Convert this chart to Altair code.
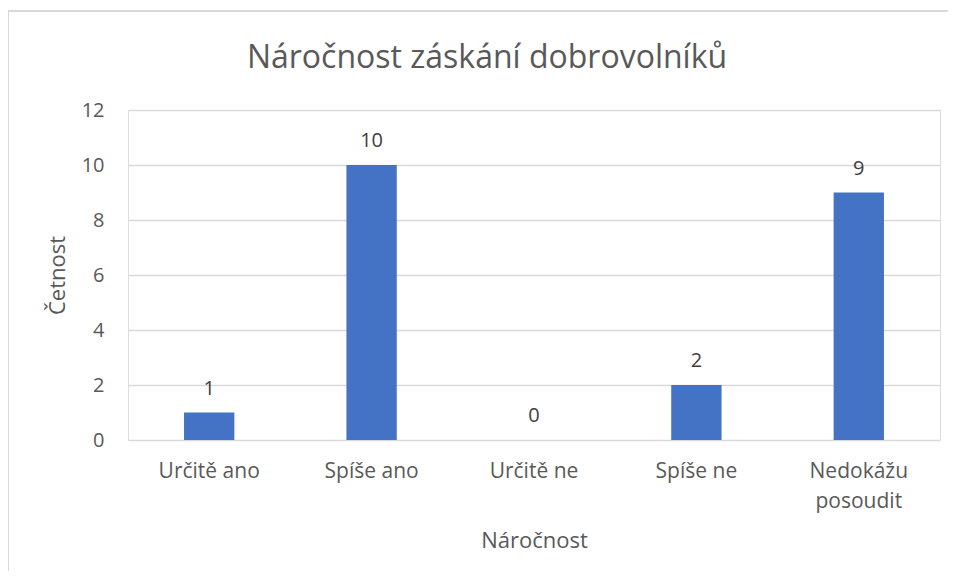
import altair as alt
import pandas as pd

categories = ["Určitě ano", "Spíše ano", "Určitě ne", "Spíše ne", "Nedokážu posoudit"]
values = [1, 10, 0, 2, 9]

df = pd.DataFrame({"cat": categories, "val": values})

FONT = "Open Sans"
GREY = "#595959"

x_enc = alt.X(
    "cat:N",
    sort=categories,
    scale=alt.Scale(paddingInner=0.69, paddingOuter=0.345),
    axis=alt.Axis(
        title="Náročnost",
        labelAngle=0,
        ticks=False,
        domain=False,
        grid=False,
        labelPadding=20,
        labelFontSize=21,
        labelColor=GREY,
        labelFont=FONT,
        labelLineHeight=30,
        labelExpr="datum.label == 'Nedokážu posoudit' ? ['Nedokážu', 'posoudit'] : datum.label",
        titleFontSize=22,
        titleFont=FONT,
        titleColor=GREY,
        titleFontWeight="normal",
        titlePadding=19,
    ),
)
y_enc = alt.Y(
    "val:Q",
    scale=alt.Scale(domain=[0, 12]),
    axis=alt.Axis(
        title="Četnost",
        values=[0, 2, 4, 6, 8, 10, 12],
        ticks=False,
        domain=False,
        labelPadding=24,
        labelFontSize=20,
        labelColor=GREY,
        labelFont=FONT,
        gridColor="#D9D9D9",
        gridWidth=1.3,
        titleFontSize=22,
        titleFont=FONT,
        titleColor=GREY,
        titleFontWeight="normal",
        titlePadding=12,
    ),
)

bars = alt.Chart(df).mark_bar(color="#4472C4").encode(x=x_enc, y=y_enc)
labels = alt.Chart(df).mark_text(
    baseline="alphabetic", dy=-18, fontSize=20, font=FONT, color="#404040"
).encode(x=alt.X("cat:N", sort=categories), y="val:Q", text="val:Q")

border_top = alt.Chart(df).mark_rule(color="#D9D9D9", strokeWidth=1.3, clip=False).encode(
    x=alt.value(-120), x2=alt.value(840), y=alt.value(-99)
)
border_left = alt.Chart(df).mark_rule(color="#D9D9D9", strokeWidth=1.3, clip=False).encode(
    x=alt.value(-120), y=alt.value(-99), y2=alt.value(480)
)

chart = (
    alt.layer(border_top, border_left, bars, labels)
    .properties(
        width=812,
        height=330,
        title=alt.TitleParams(
            "Náročnost záskání dobrovolníků",
            fontSize=32,
            font=FONT,
            color=GREY,
            fontWeight="normal",
            anchor="middle",
            dx=-47,
            dy=5,
            offset=-60,
        ),
        autosize=alt.AutoSizeParams(type="none"),
        padding={"left": 120, "top": 102, "right": 8, "bottom": 131},
    )
    .configure_view(stroke="transparent", strokeWidth=0)
    .configure(background="white")
)

chart.save("out.html", embed_options={"renderer": "svg", "actions": False})
